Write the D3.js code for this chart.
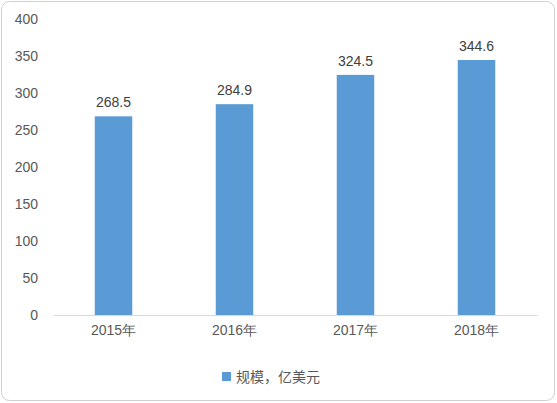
<!DOCTYPE html>
<html><head><meta charset="utf-8">
<script src="https://cdn.jsdelivr.net/npm/d3@7"></script>
<style>body{margin:0;background:#fff;font-family:"Noto Sans CJK SC","Liberation Sans",sans-serif;}</style>
</head><body><svg id="c" width="557" height="403"></svg>
<script>
const categories = ["2015年", "2016年", "2017年", "2018年"];
const values = [268.5, 284.9, 324.5, 344.6];
const yTicks = [0, 50, 100, 150, 200, 250, 300, 350, 400];
const seriesName = "规模，亿美元";

const svg = d3.select("#c");
svg.append("rect").attr("x", 1.5).attr("y", 1.5).attr("width", 553).attr("height", 399)
  .attr("rx", 8).attr("fill", "#fff").attr("stroke", "#d0d0d0");

const x = d3.scaleBand().domain(categories).range([53, 537]).paddingInner(0.69).paddingOuter(0.345);
const y = d3.scaleLinear().domain([0, 400]).range([315, 19]);

const yAxis = svg.append("g").attr("transform", "translate(44,0)")
  .call(d3.axisLeft(y).tickValues(yTicks).tickSize(0).tickPadding(6));
yAxis.select(".domain").remove();
yAxis.selectAll("text").attr("font-size", 14).attr("fill", "#595959").attr("font-family", "Liberation Sans");

svg.selectAll(".bar").data(values).join("rect")
  .attr("x", (d, i) => x(categories[i])).attr("width", x.bandwidth())
  .attr("y", d => y(d)).attr("height", d => y(0) - y(d)).attr("fill", "#5b9bd5");

svg.selectAll(".lbl").data(values).join("text")
  .attr("x", (d, i) => x(categories[i]) + x.bandwidth() / 2).attr("y", d => y(d) - 9)
  .attr("text-anchor", "middle").attr("font-size", 14).attr("fill", "#404040")
  .attr("font-family", "Liberation Sans").text(d => d.toFixed(1));

const xAxis = svg.append("g").attr("transform", `translate(0,${y(0)})`)
  .call(d3.axisBottom(x).tickSize(0).tickPadding(10));
xAxis.select(".domain").attr("stroke", "#d9d9d9");
xAxis.selectAll("text").attr("font-size", 14).attr("fill", "#595959");

svg.append("rect").attr("x", 222).attr("y", 372).attr("width", 9).attr("height", 9).attr("fill", "#5b9bd5");
svg.append("text").attr("x", 236).attr("y", 382).attr("font-size", 14).attr("fill", "#595959").text(seriesName);
</script></body></html>
